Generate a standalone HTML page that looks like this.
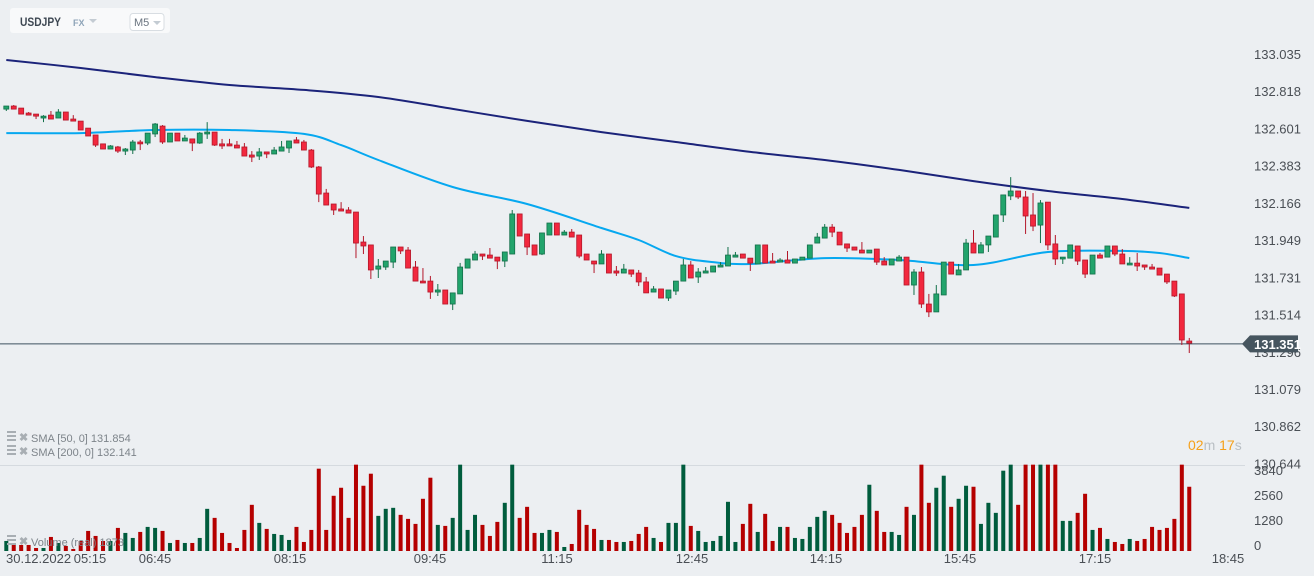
<!DOCTYPE html>
<html><head><meta charset="utf-8"><style>
html,body{margin:0;padding:0;background:#eceff2;width:1314px;height:576px;overflow:hidden;font-family:"Liberation Sans",sans-serif}
svg{position:absolute;left:0;top:0}
</style></head><body>
<svg id="chart" width="1314" height="576" xmlns="http://www.w3.org/2000/svg"></svg>
<script>
const opens=[132.713,132.731,132.719,132.690,132.684,132.661,132.678,132.661,132.696,132.655,132.643,132.602,132.562,132.510,132.480,132.492,132.468,132.474,132.521,132.515,132.568,132.614,132.521,132.573,132.527,132.539,132.515,132.568,132.579,132.510,132.510,132.503,132.492,132.445,132.439,132.463,132.451,132.468,132.486,132.533,
132.521,132.474,132.375,132.223,132.159,132.130,132.124,132.112,131.937,131.920,131.779,131.791,131.820,131.908,131.890,131.791,131.709,131.709,131.645,131.657,131.575,131.634,131.785,131.832,131.867,131.861,131.849,131.826,131.867,132.101,
131.984,131.920,131.867,131.978,132.048,131.978,131.995,131.978,131.867,131.826,131.809,131.867,131.768,131.756,131.774,131.756,131.704,131.645,131.663,131.610,131.651,131.709,131.803,131.733,131.756,131.762,131.791,131.797,131.849,131.867,
131.843,131.809,131.920,131.826,131.820,131.832,131.814,131.832,131.843,131.931,131.960,132.024,131.995,131.926,131.908,131.890,131.873,131.896,131.826,131.803,131.826,131.849,131.686,131.762,131.575,131.529,131.628,131.820,131.745,131.774,
131.931,131.873,131.920,131.966,132.095,132.206,132.235,132.200,132.095,132.036,132.170,131.926,131.838,131.843,131.914,131.832,131.750,131.861,131.849,131.914,131.867,131.803,131.814,131.803,131.791,131.785,131.750,131.709,131.634,131.359];
const closes=[132.731,132.713,132.684,132.678,132.672,132.672,132.655,132.696,132.649,132.643,132.591,132.556,132.503,132.480,132.498,132.468,132.480,132.521,132.510,132.573,132.626,132.521,132.573,132.527,132.544,132.515,132.573,132.579,132.503,132.498,132.498,132.486,132.439,132.433,132.463,132.451,132.474,132.492,132.527,132.515,
132.474,132.375,132.217,132.153,132.124,132.118,132.106,131.931,131.914,131.774,131.797,131.826,131.908,131.885,131.785,131.709,131.698,131.645,131.657,131.575,131.640,131.791,131.838,131.867,131.855,131.843,131.826,131.879,132.101,131.972,
131.908,131.861,131.990,132.048,131.978,131.995,131.966,131.855,131.832,131.809,131.867,131.756,131.756,131.779,131.750,131.704,131.640,131.663,131.610,131.657,131.709,131.803,131.727,131.762,131.768,131.797,131.803,131.861,131.861,131.843,
131.814,131.920,131.814,131.814,131.832,131.814,131.838,131.849,131.920,131.966,132.024,131.995,131.920,131.902,131.890,131.873,131.890,131.820,131.803,131.838,131.849,131.686,131.762,131.575,131.529,131.634,131.820,131.750,131.774,131.931,
131.873,131.920,131.972,132.095,132.212,132.235,132.200,132.089,132.030,132.165,131.920,131.838,131.849,131.920,131.826,131.750,131.861,131.843,131.914,131.867,131.809,131.814,131.797,131.791,131.779,131.744,131.704,131.622,131.365,131.347];
const highs=[132.731,132.737,132.719,132.696,132.684,132.678,132.702,132.713,132.696,132.678,132.643,132.602,132.562,132.510,132.503,132.498,132.486,132.533,132.533,132.573,132.632,132.620,132.573,132.573,132.562,132.539,132.579,132.637,132.579,132.539,132.539,132.527,132.515,132.468,132.486,132.463,132.492,132.527,132.527,132.550,
132.533,132.480,132.381,132.247,132.159,132.170,132.141,132.112,131.972,131.920,131.838,131.826,131.908,131.908,131.908,131.826,131.785,131.739,131.692,131.657,131.640,131.815,131.838,131.885,131.867,131.902,131.849,131.879,132.124,132.101,
131.984,131.920,131.990,132.048,132.048,132.007,132.013,131.978,131.867,131.826,131.890,131.867,131.797,131.809,131.774,131.774,131.733,131.680,131.663,131.657,131.709,131.838,131.826,131.785,131.791,131.797,131.820,131.908,131.879,131.867,
131.843,131.920,131.920,131.873,131.843,131.885,131.838,131.849,131.920,131.990,132.042,132.042,131.995,131.926,131.908,131.937,131.890,131.896,131.849,131.838,131.861,131.849,131.779,131.791,131.634,131.686,131.820,131.820,131.809,131.955,
132.007,131.937,131.972,132.095,132.212,132.316,132.235,132.235,132.223,132.182,132.170,131.978,131.849,131.920,131.914,131.832,131.861,131.873,131.914,131.914,131.896,131.849,131.873,131.803,131.809,131.785,131.750,131.709,131.634,131.377];
const lows=[132.702,132.713,132.684,132.678,132.655,132.637,132.655,132.661,132.649,132.643,132.591,132.556,132.492,132.480,132.480,132.457,132.445,132.451,132.474,132.503,132.550,132.510,132.521,132.527,132.527,132.468,132.510,132.539,132.498,132.480,132.498,132.486,132.439,132.404,132.416,132.427,132.451,132.468,132.457,132.515,
132.474,132.369,132.170,132.153,132.095,132.118,132.106,131.843,131.867,131.721,131.727,131.774,131.785,131.867,131.785,131.709,131.698,131.605,131.622,131.575,131.540,131.634,131.785,131.832,131.832,131.843,131.779,131.791,131.867,131.972,
131.861,131.861,131.861,131.978,131.978,131.978,131.966,131.843,131.832,131.756,131.809,131.756,131.739,131.756,131.733,131.680,131.640,131.645,131.610,131.593,131.628,131.709,131.727,131.698,131.756,131.762,131.791,131.797,131.849,131.843,
131.768,131.809,131.814,131.814,131.820,131.814,131.814,131.832,131.843,131.931,131.960,131.966,131.920,131.879,131.890,131.873,131.873,131.803,131.803,131.803,131.826,131.686,131.628,131.552,131.499,131.529,131.628,131.750,131.745,131.774,
131.873,131.873,131.879,131.966,132.054,132.182,132.188,131.984,132.001,131.931,131.890,131.803,131.809,131.843,131.803,131.727,131.750,131.843,131.849,131.855,131.809,131.803,131.768,131.774,131.779,131.744,131.692,131.616,131.336,131.289];
const volumes=[500,300,300,300,150,150,700,400,250,100,500,1000,750,500,500,1150,900,650,950,1200,1150,1000,400,550,400,400,650,2100,1650,900,400,150,1050,2300,1400,1100,850,800,550,1200,
450,1050,4100,1050,2750,3150,1650,4500,3250,3850,1750,2100,2150,1800,1600,1350,2600,3650,1300,1250,1650,4500,1050,1800,1300,750,1450,2400,4500,1650,
2200,900,900,1050,950,200,350,2050,1300,1100,550,550,450,450,500,850,1200,650,450,1400,1400,4500,1250,1000,450,500,750,2450,450,1350,
2350,950,1850,500,1200,1200,650,600,1200,1700,2000,1800,1400,900,1200,1800,3300,2000,950,950,800,2200,1800,4500,2400,3150,3750,2200,2600,3250,
3200,1350,2400,1900,4000,4500,2300,4500,4500,4500,4500,4500,1500,1500,1900,2850,1050,1150,600,450,350,600,500,600,1200,1050,1150,1600,4500,3200];
const sma50Idx=[0,10,20,30,40,45,50,60,70,80,85,90,95,100,110,120,130,140,150,155,159];
const sma50=[132.573,132.573,132.591,132.591,132.568,132.503,132.416,132.258,132.159,132.019,131.949,131.855,131.820,131.809,131.843,131.832,131.803,131.879,131.885,131.873,131.843];
const sma200Idx=[0,10,20,30,40,50,60,70,80,90,100,110,120,130,140,150,159];
const sma200=[133.000,132.953,132.900,132.854,132.825,132.784,132.714,132.644,132.579,132.521,132.463,132.416,132.358,132.293,132.235,132.188,132.136];
const priceTicks=[133.035,132.818,132.601,132.383,132.166,131.949,131.731,131.514,131.296,131.079,130.862,130.644];
const priceTickLabels=["133.035","132.818","132.601","132.383","132.166","131.949","131.731","131.514","131.296","131.079","130.862","130.644"];
const volTicks=[3840,2560,1280,0];
const timeLabels=["05:15","06:45","08:15","09:45","11:15","12:45","14:15","15:45","17:15","18:45"];
const timeLabelX=[90,155,290,430,557,692,826,960,1095,1228];
const lastPrice=131.351;

const NS="http://www.w3.org/2000/svg";
const svg=document.getElementById('chart');
function mk(tag,attrs,parent){const e=document.createElementNS(NS,tag);for(const k in attrs)e.setAttribute(k,attrs[k]);(parent||svg).appendChild(e);return e;}
const xOf=i=>6.3+7.44*i;
const yP=p=>171.29*(133.350-p);
const yV=v=>551-Math.min(v,4300)*25.7/1280;

// header
const hdr=mk('g',{});


mk('rect',{x:10,y:8,width:160,height:25,rx:3,fill:'#f8f9fa'},hdr);
const sym=mk('text',{x:20,y:26,'font-size':12,'font-weight':'bold',fill:'#3d4752',textLength:41,lengthAdjust:'spacingAndGlyphs'},hdr);sym.textContent='USDJPY';

const fx=mk('text',{x:73,y:26,'font-size':9,'font-weight':'bold',fill:'#8ea4b8'},hdr);fx.textContent='FX';

mk('path',{d:'M89 19 L97 19 L93 23 Z',fill:'#c4ccd3'},hdr);
const tf=mk('g',{},hdr);

mk('rect',{x:130,y:13.5,width:34,height:17,rx:3,fill:'#fff',stroke:'#d8dde2'},tf);
const tft=mk('text',{x:134,y:26,'font-size':11,fill:'#6b7580'},tf);tft.textContent='M5';
mk('path',{d:'M153 21 L161 21 L157 25 Z',fill:'#c4ccd3'},tf);

// separators
mk('line',{x1:0,y1:465.5,x2:1245,y2:465.5,stroke:'#d5dadf','stroke-width':1});

// price ticks
priceTicks.forEach((p,i)=>{const t=mk('text',{x:1254,y:yP(p)+5,'font-size':13,fill:'#4a4f55'});t.textContent=priceTickLabels[i];
});
volTicks.forEach(v=>{const t=mk('text',{x:1254,y:551-v*25.0/1280-1,'font-size':13,fill:'#4a4f55'});t.textContent=String(v);
});

// volume bars
volumes.forEach((v,i)=>{const up=closes[i]>=opens[i];const y=yV(v);
const r=mk('rect',{x:xOf(i)-2,y:y,width:4,height:551-y,fill:up?'#005c3d':'#b50000'});
});

// sma lines (smooth catmull-rom)
function line(idx,vals,color,name){
const pts=idx.map((k,j)=>[xOf(k),yP(vals[j])]);
let d='M'+pts[0][0].toFixed(1)+' '+pts[0][1].toFixed(1);
for(let j=0;j<pts.length-1;j++){const p0=pts[j-1]||pts[j],p1=pts[j],p2=pts[j+1],p3=pts[j+2]||p2;
const c1=[p1[0]+(p2[0]-p0[0])/6,p1[1]+(p2[1]-p0[1])/6],c2=[p2[0]-(p3[0]-p1[0])/6,p2[1]-(p3[1]-p1[1])/6];
d+=` C${c1[0].toFixed(1)} ${c1[1].toFixed(1)} ${c2[0].toFixed(1)} ${c2[1].toFixed(1)} ${p2[0].toFixed(1)} ${p2[1].toFixed(1)}`;}
const p=mk('path',{d:d,fill:'none',stroke:color,'stroke-width':2,'stroke-linejoin':'round'});
}
line(sma200Idx,sma200,'#1b237a','sma-200-line');
line(sma50Idx,sma50,'#06a8f0','sma-50-line');

// last price line
const lp=yP(lastPrice)+1.5;
mk('line',{x1:0,y1:lp,x2:1245,y2:lp,stroke:'#3e5160','stroke-width':1});

// candles
opens.forEach((o,i)=>{const c=closes[i];const up=c>=o;const x=xOf(i);
const g=mk('g',{});

mk('line',{x1:x,y1:yP(highs[i]),x2:x,y2:yP(lows[i]),stroke:up?'#13704a':'#b3172a','stroke-width':1},g);
const top=Math.min(yP(o),yP(c));const h=Math.max(Math.abs(yP(o)-yP(c)),1.5);
mk('rect',{x:x-2.5,y:top,width:5,height:h,fill:up?'#22a46c':'#f2283e',stroke:up?'#13704a':'#b3172a','stroke-width':0.8},g);});

// price tag
const tag=mk('g',{});

mk('path',{d:`M1242 ${lp} L1250 ${lp-8.5} L1298 ${lp-8.5} L1298 ${lp+8.5} L1250 ${lp+8.5} Z`,fill:'#46555f'},tag);
const tt=mk('text',{x:1254,y:lp+5,'font-size':13,'font-weight':'bold',fill:'#fff'},tag);tt.textContent=lastPrice.toFixed(3);

// countdown
const cd=mk('text',{x:1188,y:450,'font-size':14});

cd.innerHTML='<tspan fill="#f5a01a">02</tspan><tspan fill="#b9bfc4">m </tspan><tspan fill="#f5a01a">17</tspan><tspan fill="#b9bfc4">s</tspan>';

// legends
function legend(y,text,name){const g=mk('g',{});
mk('rect',{x:7,y:y-8,width:9,height:2,fill:'#a8aeb3'},g);mk('rect',{x:7,y:y-4,width:9,height:2,fill:'#a8aeb3'},g);mk('rect',{x:7,y:y,width:9,height:2,fill:'#a8aeb3'},g);
const x=mk('text',{x:19,y:y+2,'font-size':11,'font-weight':'bold',fill:'#a8aeb3'},g);x.textContent='✖';
const t=mk('text',{x:31,y:y+3,'font-size':11,fill:'#7d848a'},g);t.textContent=text;}
legend(439,'SMA [50, 0] 131.854','sma-50-legend');
legend(453,'SMA [200, 0] 132.141','sma-200-legend');
legend(543,'Volume (real) 1873','volume-legend');

// time axis
const d0=mk('text',{x:6,y:563,'font-size':13,fill:'#4a4f55'});d0.textContent='30.12.2022';

timeLabels.forEach((s,i)=>{const t=mk('text',{x:timeLabelX[i],y:563,'font-size':13,fill:'#4a4f55','text-anchor':'middle'});t.textContent=s;
});
</script>
</body></html>
